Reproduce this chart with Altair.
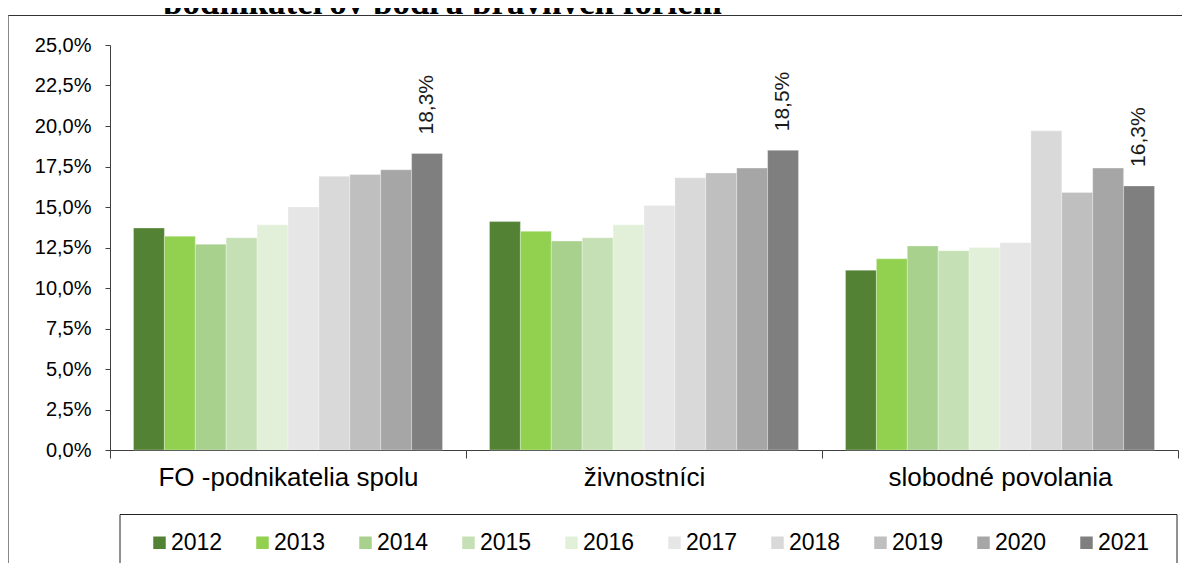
import altair as alt
import pandas as pd

# ---- data ----
categories = ["FO -podnikatelia spolu", "živnostníci", "slobodné povolania"]
years = ["2012", "2013", "2014", "2015", "2016", "2017", "2018", "2019", "2020", "2021"]
fo_spolu = [13.7, 13.2, 12.7, 13.1, 13.9, 15.0, 16.9, 17.0, 17.3, 18.3]
zivnostnici = [14.1, 13.5, 12.9, 13.1, 13.9, 15.1, 16.8, 17.1, 17.4, 18.5]
slobodne = [11.1, 11.8, 12.6, 12.3, 12.5, 12.8, 19.7, 15.9, 17.4, 16.3]
colors = ["#548235", "#92D050", "#A9D18E", "#C5E0B4", "#E2F0D9",
          "#E7E6E6", "#D9D9D9", "#BFBFBF", "#A6A6A6", "#7F7F7F"]
y_ticks = [0.0, 0.025, 0.05, 0.075, 0.1, 0.125, 0.15, 0.175, 0.2, 0.225, 0.25]
title_text = "podnikateľov podľa právnych foriem"
label_year = "2021"

series = [fo_spolu, zivnostnici, slobodne]
rows = []
for cat, vals in zip(categories, series):
    for yr, v in zip(years, vals):
        rows.append({"cat": cat, "year": yr, "value": v / 100.0,
                     "label": f"{v:.1f}%".replace(".", ",")})
df = pd.DataFrame(rows)
one = pd.DataFrame({"t": [title_text]})

W, H = 1068, 405
FONT = "Liberation Sans"

x_enc = alt.X("cat:N", sort=categories,
              scale=alt.Scale(paddingInner=0, paddingOuter=0),
              axis=alt.Axis(title=None, labelAngle=0, labelFontSize=26, labelFont=FONT,
                            labelColor="black", tickBand="extent", tickSize=8,
                            labelPadding=6, domainColor="#404040", tickColor="#404040",
                            labelLimit=500))
xoff_enc = alt.XOffset("year:N", sort=years,
                       scale=alt.Scale(paddingOuter=0.76, paddingInner=0))
y_enc = alt.Y("value:Q", scale=alt.Scale(domain=[0, 0.25], nice=False),
              axis=alt.Axis(title=None, values=y_ticks, format=".1%",
                            labelExpr="replace(datum.label, '.', ',')",
                            grid=False, tickSize=5, labelPadding=14, labelFontSize=20,
                            labelFont=FONT, labelColor="black",
                            domainColor="#404040", tickColor="#404040"))

bars = alt.Chart(df).mark_bar(stroke="white", strokeWidth=0.6, strokeOpacity=0.5).encode(
    x=x_enc,
    xOffset=xoff_enc,
    y=y_enc,
    color=alt.Color("year:N", sort=years,
                    scale=alt.Scale(domain=years, range=colors),
                    legend=alt.Legend(title=None, orient="none", legendX=38, legendY=486,
                                      direction="horizontal", columns=10,
                                      symbolType="square", symbolSize=156,
                                      symbolStrokeWidth=0, labelFontSize=23,
                                      labelFont=FONT, labelOffset=0, columnPadding=28,
                                      labelColor="black", padding=0)),
)

labels = alt.Chart(df).transform_filter(alt.datum.year == label_year).mark_text(
    angle=270, align="left", baseline="middle", dx=19, fontSize=21, font=FONT,
    color="#1a1a1a").encode(x=x_enc, xOffset=xoff_enc, y=y_enc, text="label:N")

title_mark = alt.Chart(one).mark_text(
    align="left", baseline="alphabetic", font="Liberation Serif", fontWeight="bold",
    fontSize=35, color="black").encode(x=alt.value(53), y=alt.value(-31), text="t:N")

mask = alt.Chart(one).mark_rect(fill="white").encode(
    x=alt.value(40), x2=alt.value(720), y=alt.value(-31), y2=alt.value(-12))

frame_top = alt.Chart(one).mark_rule(color="#333333", strokeWidth=1).encode(
    x=alt.value(-102), x2=alt.value(1090), y=alt.value(-29.5))
frame_left = alt.Chart(one).mark_rule(color="#888888", strokeWidth=1).encode(
    x=alt.value(-101.5), y=alt.value(-29.5), y2=alt.value(620))

legend_box = alt.Chart(one).mark_rect(fillOpacity=0, stroke="#222222", strokeWidth=1).encode(
    x=alt.value(10), x2=alt.value(1067), y=alt.value(469.5), y2=alt.value(640))

chart = alt.layer(title_mark, mask, frame_top, frame_left, legend_box, bars, labels).properties(
    width=W, height=H,
    autosize=alt.AutoSizeParams(type="none"),
    padding={"left": 102, "top": 37, "right": 4, "bottom": 113},
    background="white",
).configure_view(stroke=None)

chart.save("out.html", embed_options={"renderer": "svg", "actions": False})
